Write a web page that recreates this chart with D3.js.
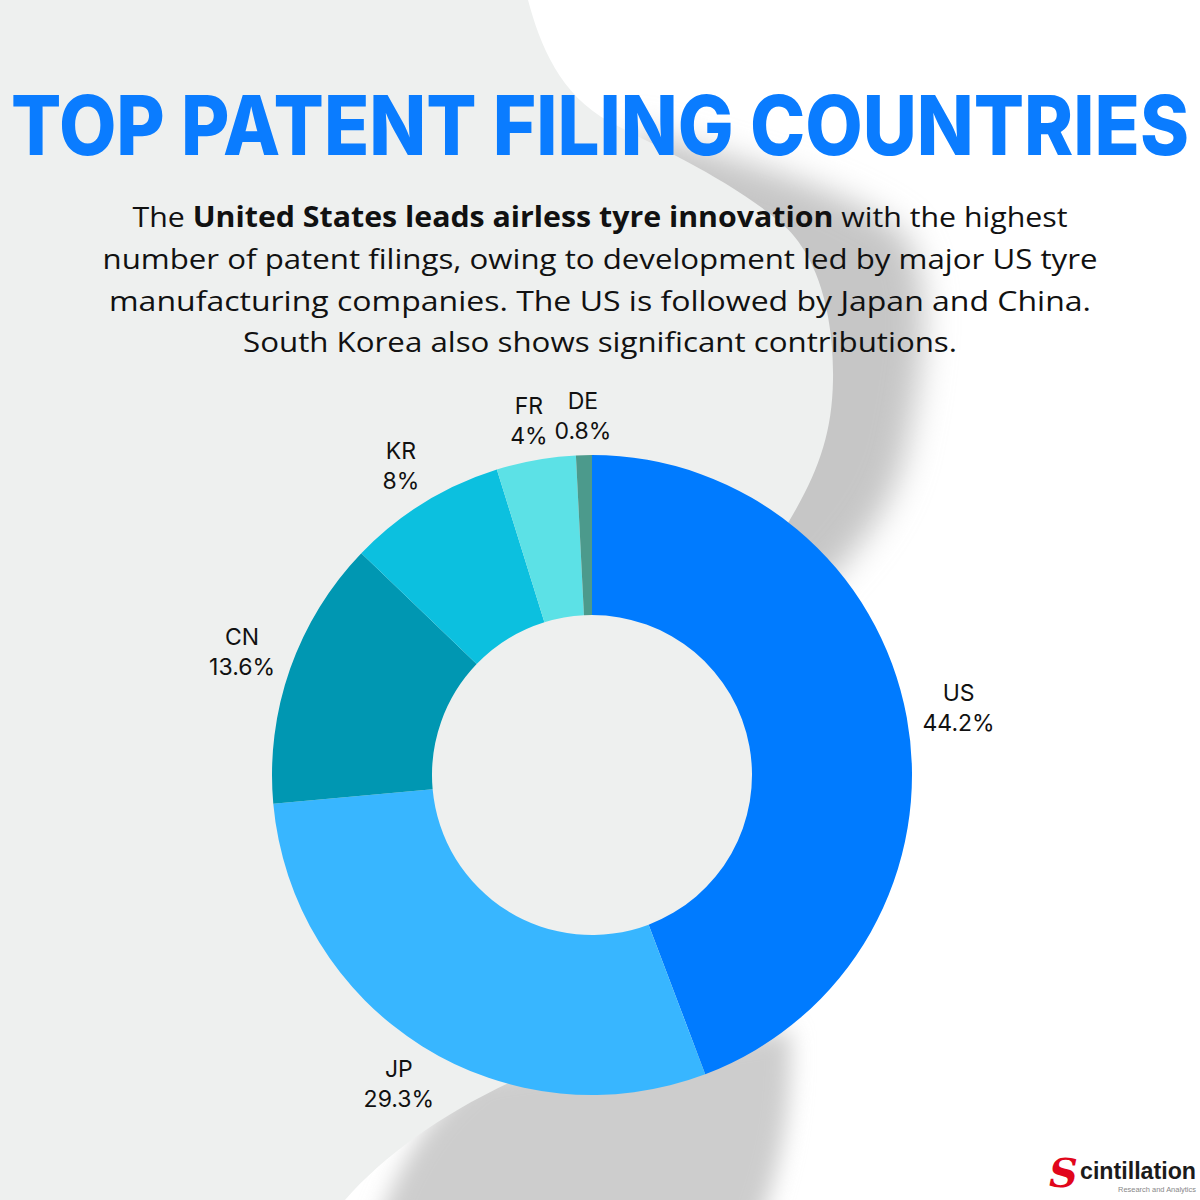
<!DOCTYPE html>
<html>
<head>
<meta charset="utf-8">
<script src="https://cdn.jsdelivr.net/npm/d3@7"></script>
<style>
  html, body { margin: 0; padding: 0; background: #fff; }
  svg { display: block; }
</style>
</head>
<body>
<div id="chart"></div>
<script>
// data
const countries = ['US', 'JP', 'CN', 'KR', 'FR', 'DE']
const shares = [44.2, 29.3, 13.6, 8, 4, 0.8]
const sliceColors = ['#007bff', '#38b6ff', '#0097b2', '#0cc0df', '#5ce1e6', '#4c9a8c']

const titleText = 'TOP PATENT FILING COUNTRIES'
// each line is a list of [text, bold] runs
const introLines = [
  [['The ', false], ['United States leads airless tyre innovation', true], [' with the highest', false]],
  [['number of patent filings, owing to development led by major US tyre', false]],
  [['manufacturing companies. The US is followed by Japan and China.', false]],
  [['South Korea also shows significant contributions.', false]],
]

// layout
const width = 1200
const height = 1200
const cx = 592
const cy = 775
const outerR = 320
const innerR = 160
const lightGrey = '#eef0ef'

const svg = d3.select('#chart')
  .append('svg')
  .attr('width', width)
  .attr('height', height)

const defs = svg.append('defs')
const addBlur = (id, dev) => defs.append('filter')
  .attr('id', id)
  .attr('filterUnits', 'userSpaceOnUse')
  .attr('x', 0).attr('y', 0).attr('width', width).attr('height', height)
  .append('feGaussianBlur')
  .attr('stdDeviation', dev)
addBlur('soft', 16)
addBlur('softer', 11)

svg.append('rect')
  .attr('width', width)
  .attr('height', height)
  .attr('fill', '#fff')

// background blob + its soft shadow
svg.append('path')
  .attr('d', 'M630,128 C720,155 840,185 900,230 C940,275 920,385 905,455 C890,510 865,540 820,590 L700,560 Z')
  .attr('fill', '#c6c6c6')
  .attr('filter', 'url(#soft)')

svg.append('path')
  .attr('d', 'M480,1075 L790,1030 C795,1130 770,1200 745,1260 L366,1260 C392,1170 430,1110 480,1075 Z')
  .attr('fill', '#cdcdcd')
  .attr('filter', 'url(#softer)')

svg.append('path')
  .attr('d', 'M0,0 L528,0 C540,45 560,95 610,122 C660,148 730,180 780,222 C820,255 834,320 833,380 ' +
    'C832,440 815,480 780,536 L780,775 L760,980 L515,1080 C440,1115 385,1155 345,1200 L0,1200 Z')
  .attr('fill', lightGrey)

// title
svg.append('text')
  .attr('x', 11)
  .attr('y', 155)
  .attr('textLength', 1178)
  .attr('lengthAdjust', 'spacingAndGlyphs')
  .style('font-family', 'Inter, "Open Sans", sans-serif')
  .style('font-weight', 800)
  .style('font-size', '82px')
  .attr('fill', '#0a7cff')
  .text(titleText)

// intro paragraph
const introBase = [227, 269, 311, 352]
const introWidth = [935, 995, 982, 714]
introLines.forEach((runs, i) => {
  const t = svg.append('text')
    .attr('x', 600)
    .attr('y', introBase[i])
    .attr('text-anchor', 'middle')
    .attr('textLength', introWidth[i])
    .attr('lengthAdjust', 'spacingAndGlyphs')
    .style('font-family', '"Open Sans", sans-serif')
    .style('font-size', '28px')
    .attr('fill', '#111')
  runs.forEach(([txt, bold]) => {
    t.append('tspan')
      .style('font-weight', bold ? 700 : 400)
      .text(txt)
  })
})

// donut
const pie = d3.pie().sort(null).value(d => d)
const arcs = pie(shares)
const arc = d3.arc().innerRadius(innerR).outerRadius(outerR)

const g = svg.append('g').attr('transform', `translate(${cx},${cy})`)

g.append('circle')
  .attr('r', innerR)
  .attr('fill', lightGrey)

g.selectAll('path.slice')
  .data(arcs)
  .join('path')
  .attr('class', 'slice')
  .attr('d', arc)
  .attr('fill', (d, i) => sliceColors[i])

// labels sit outside, box edge kept a fixed gap from the ring
const labelGap = outerR + 16
const capH = 17
const lineGap = 30
const halfH = (capH + lineGap) / 2

arcs.forEach((d, i) => {
  const mid = (d.startAngle + d.endAngle) / 2
  const ux = Math.sin(mid)
  const uy = -Math.cos(mid)
  const t = g.append('text')
    .attr('text-anchor', 'middle')
    .style('font-family', 'Inter, sans-serif')
    .style('font-size', '23px')
    .attr('fill', '#111')
  const name = t.append('tspan').attr('x', 0).text(countries[i])
  const pct = t.append('tspan').attr('x', 0).text(`${shares[i]}%`)
  const halfW = Math.max(name.node().getComputedTextLength(), pct.node().getComputedTextLength()) / 2
  const edge = Math.min(
    Math.abs(ux) > 1e-6 ? halfW / Math.abs(ux) : Infinity,
    Math.abs(uy) > 1e-6 ? halfH / Math.abs(uy) : Infinity
  )
  const r = labelGap + edge
  const lx = ux * r
  const ly = uy * r
  name.attr('x', lx).attr('y', ly - halfH + capH)
  pct.attr('x', lx).attr('y', ly + halfH)
})

// logo
const logo = svg.append('g')
logo.append('text')
  .attr('x', 1049)
  .attr('y', 1187)
  .style('font-family', '"DejaVu Serif", serif')
  .style('font-style', 'italic')
  .style('font-weight', 700)
  .style('font-size', '40px')
  .attr('fill', '#e1061b')
  .text('S')
logo.append('text')
  .attr('x', 1080)
  .attr('y', 1179)
  .attr('textLength', 116)
  .attr('lengthAdjust', 'spacingAndGlyphs')
  .style('font-family', '"Liberation Sans", sans-serif')
  .style('font-weight', 700)
  .style('font-size', '24px')
  .attr('fill', '#1b1b1b')
  .text('cintillation')
logo.append('text')
  .attr('x', 1118)
  .attr('y', 1192)
  .attr('textLength', 78)
  .attr('lengthAdjust', 'spacingAndGlyphs')
  .style('font-family', '"Liberation Sans", sans-serif')
  .style('font-size', '7px')
  .attr('fill', '#888')
  .text('Research and Analytics')
</script>
</body>
</html>
